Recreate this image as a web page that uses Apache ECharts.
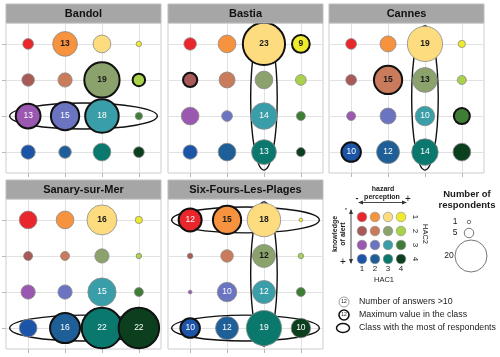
<!DOCTYPE html>
<html><head><meta charset="utf-8">
<script src="https://cdn.jsdelivr.net/npm/echarts@6/dist/echarts.min.js"></script>
<style>html,body{margin:0;padding:0;background:#fff}#c{width:500px;height:357px}</style>
</head><body><div id="c"></div>
<script>
// ---- data ----
const cities = ['Bandol', 'Bastia', 'Cannes', 'Sanary-sur-Mer', 'Six-Fours-Les-Plages'];
const hac1Ticks = [1, 2, 3, 4];   // hazard perception classes (columns)
const hac2Ticks = [1, 2, 3, 4];   // knowledge of alert classes (rows)
// number of respondents, rows = HAC2 1..4, columns = HAC1 1..4
const bandol   = [[5, 13, 9, 2], [6, 7, 19, 6], [13, 15, 18, 3], [7, 6, 9, 5]];
const bastia   = [[6, 9, 23, 9], [7, 8, 9, 5], [9, 5, 14, 4], [7, 9, 13, 4]];
const cannes   = [[5, 8, 19, 3], [5, 15, 13, 4], [4, 8, 10, 8], [10, 12, 14, 9]];
const sanary   = [[9, 9, 16, 3], [4, 4, 7, 2], [7, 7, 15, 4], [9, 16, 22, 22]];
const sixFours = [[12, 15, 18, 1], [2, 6, 12, 2], [1, 10, 12, 4], [10, 12, 19, 10]];
const cityValues = [bandol, bastia, cannes, sanary, sixFours];
// classes with the most respondents: [city index, col from, col to, row from, row to]
const classEllipses = [
  [0, 1, 4, 3, 3],
  [1, 3, 3, 1, 4],
  [2, 3, 3, 1, 4],
  [3, 1, 4, 4, 4],
  [4, 1, 4, 1, 1],
  [4, 3, 3, 1, 4],
  [4, 1, 4, 4, 4]
];
const sizeLegendValues = [1, 5, 20];
const legendTexts = ['Number of answers >10', 'Maximum value in the class', 'Class with the most of respondents'];

// ---- styles ----
const palette = [
  ['#e8262b', '#f7923f', '#fddb7f', '#eeea2c'],
  ['#a75a57', '#c97b5b', '#8ba26c', '#a8d24b'],
  ['#9a58b0', '#6a74c0', '#3a9ea8', '#3f7d36'],
  ['#1c54a8', '#1e5f98', '#0b786e', '#0b3f1d']
];
const textColors = [
  ['#ffffff', '#1a1a1a', '#1a1a1a', '#1a1a1a'],
  ['#ffffff', '#1a1a1a', '#1a1a1a', '#1a1a1a'],
  ['#ffffff', '#ffffff', '#ffffff', '#ffffff'],
  ['#ffffff', '#ffffff', '#ffffff', '#ffffff']
];
const FONT = '"Liberation Sans", Arial, sans-serif';
const panels = [[6, 23], [168, 23], [329, 23], [6, 199], [168, 199]];
const PW = 155, PH = 150, HH = 19;
const bubbleSize = n => 2 + 1.75 * n;
const legendSize = n => 2 + 1.5 * n;

// maximum per class across cities
const classMax = hac2Ticks.map((_, r) => hac1Ticks.map((_, c) => Math.max(...cityValues.map(v => v[r][c]))));

const grids = [], xAxes = [], yAxes = [], series = [], graphics = [];
cities.forEach((city, i) => {
  const [L, T] = panels[i];
  grids.push({left: L, top: T, width: PW, height: PH, show: true, borderColor: '#cdcdcd', borderWidth: 1, backgroundColor: '#fff'});
  const leftPanel = (L < 100);
  xAxes.push({type: 'value', gridIndex: i, min: 0.4, max: 4.6,
    axisLine: {show: false}, axisLabel: {show: false},
    axisTick: {show: true, customValues: hac1Ticks, length: 4, lineStyle: {color: '#b8b8b8'}},
    splitLine: {show: true, lineStyle: {color: '#e2e2e2', width: 1}}});
  yAxes.push({type: 'value', gridIndex: i, min: 0.42, max: 4.58, inverse: true,
    axisLine: {show: false}, axisLabel: {show: false},
    axisTick: {show: leftPanel, customValues: hac2Ticks, length: 4, lineStyle: {color: '#b8b8b8'}},
    splitLine: {show: true, lineStyle: {color: '#e2e2e2', width: 1}}});
  // header
  graphics.push({type: 'rect', shape: {x: L, y: T - HH, width: PW, height: HH}, style: {fill: '#a6a6a6', stroke: '#bdbdbd', lineWidth: 1}, z: 10});
  graphics.push({type: 'text', x: L + PW / 2, y: T - HH / 2 + 0.5, style: {text: city, font: 'bold 11px ' + FONT, fill: '#111', align: 'center', verticalAlign: 'middle'}, z: 11});

  // ellipses
  series.push({
    type: 'custom', xAxisIndex: i, yAxisIndex: i, z: 2, silent: true, animation: false,
    data: classEllipses.filter(e => e[0] === i).map(e => e.slice(1)),
    encode: {x: [0, 1], y: [2, 3]},
    renderItem: (params, api) => {
      const c0 = api.value(0), c1 = api.value(1), r0 = api.value(2), r1 = api.value(3);
      const ctr = api.coord([(c0 + c1) / 2, (r0 + r1) / 2]);
      const u = api.size([1, 1]);
      const rx = ((c1 - c0) / 2 + (c1 > c0 ? 0.5 : 0.36)) * u[0];
      const ry = ((r1 - r0) / 2 + (r1 > r0 ? 0.5 : 0.36)) * u[1];
      return {type: 'ellipse', shape: {cx: ctr[0], cy: ctr[1], rx: rx, ry: ry},
        style: {fill: 'none', stroke: '#111', lineWidth: 1.4}};
    }
  });

  // bubbles
  const vals = cityValues[i];
  const data = [];
  hac2Ticks.forEach((row, r) => hac1Ticks.forEach((col, c) => {
    const n = vals[r][c];
    const isMax = n === classMax[r][c];
    const labeled = n >= 10 || (isMax && n >= 9);
    data.push({
      value: [col, row, n],
      itemStyle: {color: palette[r][c], opacity: 1, borderColor: isMax ? '#111' : '#8a8a8a', borderWidth: isMax ? 2 : 0.8},
      label: {show: labeled, color: textColors[r][c], fontWeight: textColors[r][c] === '#ffffff' ? 'normal' : 'bold'}
    });
  }));
  series.push({
    type: 'scatter', xAxisIndex: i, yAxisIndex: i, z: 3, animation: false, silent: true,
    symbolSize: v => bubbleSize(v[2]),
    itemStyle: {opacity: 1},
    data: data,
    label: {position: 'inside', formatter: p => String(p.value[2]), fontSize: 8.5, fontFamily: FONT}
  });
});

// ---- legend: colour matrix ----
const lgX = [362, 375, 388, 401], lgY = [217, 231, 245, 259];
const txt = (x, y, text, font, extra) => Object.assign({type: 'text', x: x, y: y, style: {text: text, font: font, fill: '#1a1a1a', align: 'center', verticalAlign: 'middle'}}, extra || {});
graphics.push(txt(383, 189, 'hazard', 'bold 7px ' + FONT));
graphics.push(txt(382, 197.5, 'perception', 'bold 7px ' + FONT));
graphics.push(txt(357, 199, '-', 'bold 9px ' + FONT));
graphics.push(txt(408, 199, '+', '10px ' + FONT));
graphics.push({type: 'line', shape: {x1: 359, y1: 202.5, x2: 406, y2: 202.5}, style: {stroke: '#333', lineWidth: 0.9}});
graphics.push({type: 'polygon', shape: {points: [[407, 202.5], [402, 200.5], [402, 204.5]]}, style: {fill: '#333'}});
graphics.push({type: 'polygon', shape: {points: [[358, 202.5], [363, 200.5], [363, 204.5]]}, style: {fill: '#333'}});
graphics.push({type: 'line', shape: {x1: 351, y1: 210, x2: 351, y2: 263}, style: {stroke: '#333', lineWidth: 0.9}});
graphics.push({type: 'polygon', shape: {points: [[351, 209], [349, 214], [353, 214]]}, style: {fill: '#333'}});
graphics.push({type: 'polygon', shape: {points: [[351, 264], [349, 259], [353, 259]]}, style: {fill: '#333'}});
graphics.push(txt(346, 211, "'", 'bold 8px ' + FONT));
graphics.push(txt(343, 262, '+', '10px ' + FONT));
graphics.push(txt(335, 234, 'knowledge', 'bold 7px ' + FONT, {rotation: Math.PI / 2}));
graphics.push(txt(343.5, 234, 'of alert', 'bold 7px ' + FONT, {rotation: Math.PI / 2}));
hac2Ticks.forEach((row, r) => {
  hac1Ticks.forEach((col, c) => {
    graphics.push({type: 'circle', shape: {cx: lgX[c], cy: lgY[r], r: 4.8}, style: {fill: palette[r][c], stroke: '#8a8a8a', lineWidth: 0.6}});
  });
  graphics.push(txt(415, lgY[r], String(row), '8px ' + FONT, {rotation: -Math.PI / 2}));
});
hac1Ticks.forEach((col, c) => graphics.push(txt(lgX[c], 269, String(col), '8px ' + FONT)));
graphics.push(txt(384, 279.5, 'HAC1', '7.5px ' + FONT));
graphics.push(txt(425, 234, 'HAC2', '7.5px ' + FONT, {rotation: -Math.PI / 2}));

// ---- legend: bubble size ----
graphics.push(txt(467, 194, 'Number of', 'bold 9.5px ' + FONT));
graphics.push(txt(467, 205, 'respondents', 'bold 9.5px ' + FONT));
const szPos = [[469, 222, 455], [469, 233, 455], [471, 256, 449]];
sizeLegendValues.forEach((v, k) => {
  const [cx, cy, tx] = szPos[k];
  graphics.push({type: 'circle', shape: {cx: cx, cy: cy, r: legendSize(v) / 2}, style: {fill: '#fff', stroke: '#555', lineWidth: 0.8}});
  graphics.push(txt(tx, cy - 0.5, String(v), '8.5px ' + FONT));
});

// ---- legend: symbols ----
graphics.push({type: 'circle', shape: {cx: 344, cy: 302, r: 5}, style: {fill: '#fff', stroke: '#777', lineWidth: 0.7}});
graphics.push(txt(344, 302, '12', '5px ' + FONT));
graphics.push({type: 'circle', shape: {cx: 344, cy: 315, r: 5}, style: {fill: '#fff', stroke: '#111', lineWidth: 1.6}});
graphics.push(txt(344, 315, '12', '5px ' + FONT));
graphics.push({type: 'ellipse', shape: {cx: 343, cy: 328, rx: 6.5, ry: 4.5}, style: {fill: 'none', stroke: '#111', lineWidth: 1.5}});
legendTexts.forEach((t, k) => graphics.push({type: 'text', x: 359, y: 302 + 13 * k, style: {text: t, font: '8.8px ' + FONT, fill: '#222', align: 'left', verticalAlign: 'middle'}}));

const chart = echarts.init(document.getElementById('c'), null, {renderer: 'canvas'});
chart.setOption({
  animation: false,
  backgroundColor: '#fff',
  grid: grids, xAxis: xAxes, yAxis: yAxes, series: series,
  graphic: {elements: graphics}
});
</script>
</body></html>
